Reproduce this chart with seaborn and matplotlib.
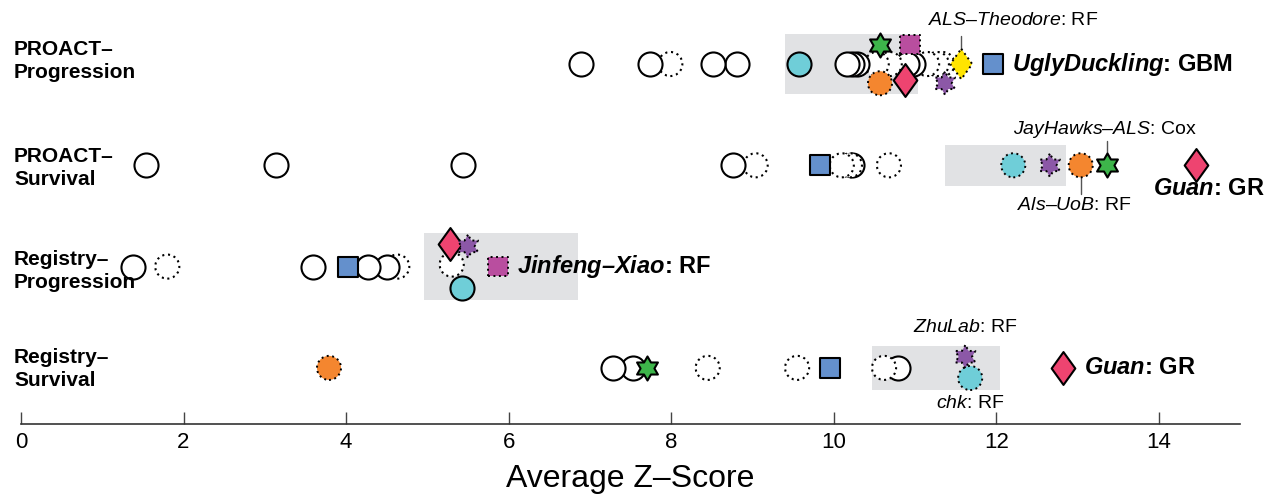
import numpy as np
import pandas as pd
import matplotlib
matplotlib.use("Agg")
import matplotlib.pyplot as plt
import seaborn as sns
from matplotlib.path import Path

# ---------------- data ----------------
row_labels = ["PROACT\u2013\nProgression", "PROACT\u2013\nSurvival",
              "Registry\u2013\nProgression", "Registry\u2013\nSurvival"]

# unlabelled teams (open circles), per row
open_solid = [
    [6.89, 7.74, 8.51, 8.81, 10.16, 10.23, 10.29, 10.90, 10.98],
    [1.54, 3.14, 5.44, 8.76, 10.23],
    [1.38, 3.59, 4.27, 4.50],
    [7.28, 7.53, 10.79],
]
open_dotted = [
    [7.99, 10.53, 10.69, 11.15, 11.27, 11.34],
    [9.04, 10.10, 10.20, 10.68],
    [1.80, 4.63, 5.30],
    [8.45, 9.55, 10.62],
]

# highlighted teams, value per row (nan = absent)
nan = np.nan
team_chk = [9.57, 12.21, 5.43, 11.68]
team_als_uob = [10.57, 13.04, nan, 3.79]
team_jayhawks = [10.57, 13.36, nan, 7.70]
team_jinfeng = [10.94, nan, 5.87, nan]
team_guan = [10.88, 14.46, 5.28, 12.82]
team_zhulab = [11.37, 12.66, 5.50, 11.62]
team_theodore = [11.57, nan, nan, nan]
team_ugly = [11.96, 9.83, 4.02, 9.95]

# shaded ranges per row
band_lo = [9.40, 11.37, 4.96, 10.47]
band_hi = [11.04, 12.86, 6.85, 12.05]

tick_values = [0, 2, 4, 6, 8, 10, 12, 14]
x_label = "Average Z\u2013Score"

# ---------------- style ----------------
sns.set_theme(style="white")
plt.rcParams['font.family'] = ['Liberation Sans', 'DejaVu Sans']
plt.rcParams['text.color'] = 'black'
plt.rcParams['axes.labelcolor'] = 'black'
plt.rcParams['xtick.color'] = 'black'
plt.rcParams['mathtext.fontset'] = 'custom'
plt.rcParams['mathtext.rm'] = 'Liberation Sans'
plt.rcParams['mathtext.it'] = 'Liberation Sans:italic'
plt.rcParams['mathtext.bf'] = 'Liberation Sans:bold'
plt.rcParams['mathtext.bfit'] = 'Liberation Sans:italic:bold'

ang = np.deg2rad(np.arange(12) * 30 + 90)
rad = np.where(np.arange(12) % 2 == 0, 1.0, 0.577)
hv = np.column_stack([rad * np.cos(ang), rad * np.sin(ang)])
HEX = Path(np.vstack([hv, hv[:1]]), closed=True)
DIA = Path([(0, 1), (0.72, 0), (0, -1), (-0.72, 0), (0, 1)], closed=True)

DOT = (0, (1.0, 1.8))
teams = [
    # values, marker, color, size, edge styles per row, y offsets per row
    (team_chk, 'o', '#6FCED8', 300, ['-', DOT, '-', DOT], [0, 0, 0.21, 0.10]),
    (team_als_uob, 'o', '#F4862F', 300, [DOT, DOT, DOT, DOT], [0.19, 0, 0, 0]),
    (team_jayhawks, HEX, '#3DB54A', 300, ['-', '-', '-', '-'], [-0.19, 0, 0, 0]),
    (team_jinfeng, 's', '#B94E9F', 190, [DOT, DOT, DOT, DOT], [-0.19, 0, 0, 0]),
    (team_guan, DIA, '#EE4470', 560, ['-', '-', '-', '-'], [0.16, 0, -0.22, 0]),
    (team_zhulab, HEX, '#8C58A7', 280, [DOT, DOT, DOT, DOT], [0.19, 0, -0.20, -0.11]),
    (team_theodore, DIA, '#FFE400', 480, [DOT, DOT, DOT, DOT], [0, 0, 0, 0]),
    (team_ugly, 's', '#6490CC', 190, ['-', '-', '-', '-'], [0, 0, 0, 0]),
]

W, H = 1266, 497
fig = plt.figure(figsize=(W / 100, H / 100), dpi=100)
ax = fig.add_axes([21 / W, 73 / H, 1219 / W, 424 / H])
ax.set_xlim(0, 15)
ax.set_ylim(3.554, -0.632)

# shaded bands
for r in range(4):
    hh = [0.30, 0.20, 0.33, 0.22][r]
    ax.add_patch(plt.Rectangle((band_lo[r], r - hh), band_hi[r] - band_lo[r], 2 * hh,
                               facecolor='#E1E2E4', edgecolor='none', zorder=0))

# open circles: leftmost drawn on top
z = 1
for r in range(4):
    pts = [(v, '-') for v in open_solid[r]] + [(v, DOT) for v in open_dotted[r]]
    pts.sort(key=lambda p: -p[0])
    for v, ls in pts:
        dy = -0.02 if (r == 2 and abs(v - 5.30) < 1e-6) else 0
        sns.scatterplot(x=[v], y=[r + dy], ax=ax, marker='o', s=300,
                        facecolor='white', edgecolor='black', linewidth=1.5,
                        linestyle=ls, zorder=z, legend=False)
        z += 1

# highlighted teams
for vals, mk, col, size, styles, offs in teams:
    for r in range(4):
        v = vals[r]
        if np.isnan(v):
            continue
        sns.scatterplot(x=[v], y=[r + offs[r]], ax=ax, marker=mk, s=size,
                        facecolor=col, edgecolor='black',
                        linewidth=1.5 if styles[r] == '-' else 1.4,
                        linestyle=styles[r], zorder=100 + z, legend=False)
        z += 1

# annotations
def note(text, x, r, dx, dy, ha='center', size=14, weight='normal'):
    ax.annotate(text, xy=(x, r), xytext=(dx, dy), textcoords='offset pixels',
                ha=ha, va='center', fontsize=size, fontweight=weight, zorder=500)

note("$\\mathit{ALS\u2013Theodore}$: RF", team_theodore[0], 0, 52, 44)
ax.plot([team_theodore[0]] * 2, [0 - 0.12, 0 - 0.28], color='#555555', lw=1, zorder=50)
note("$\\mathbfit{UglyDuckling}$: GBM", team_ugly[0], 0, 19, 0, ha='left', size=17, weight='bold')
note("$\\mathit{JayHawks\u2013ALS}$: Cox", team_jayhawks[1], 1, -2, 36)
ax.plot([team_jayhawks[1]] * 2, [1 - 0.12, 1 - 0.24], color='#555555', lw=1, zorder=50)
note("$\\mathit{Als\u2013UoB}$: RF", team_als_uob[1], 1, -6, -40)
ax.plot([team_als_uob[1]] * 2, [1 + 0.13, 1 + 0.28], color='#555555', lw=1, zorder=50)
note("$\\mathbfit{Guan}$: GR", team_guan[1], 1, 13, -23, size=17, weight='bold')
note("$\\mathbfit{Jinfeng\u2013Xiao}$: RF", team_jinfeng[2], 2, 19, 0, ha='left', size=17, weight='bold')
note("$\\mathit{ZhuLab}$: RF", team_zhulab[3], 3, 0, 40)
note("$\\mathit{chk}$: RF", team_chk[3], 3, 0, -36)
note("$\\mathbfit{Guan}$: GR", team_guan[3], 3, 21, 0, ha='left', size=17, weight='bold')

# row labels
centers_px = [61, 168, 271, 369]
for lab, cy in zip(row_labels, centers_px):
    fig.text(14 / W, 1 - cy / H, lab, ha='left', va='center', fontsize=15,
             fontweight='bold', linespacing=1.3)

# axis styling
sns.despine(ax=ax, left=True, top=True, right=True)
ax.spines['bottom'].set_color('#333333')
ax.spines['bottom'].set_linewidth(1.2)
ax.set_yticks([])
ax.set_xticks(tick_values)
ax.set_xticklabels([str(t) for t in tick_values], fontsize=16)
ax.tick_params(axis='x', direction='in', length=9, width=1, color='#444444', pad=6,
               bottom=True)
ax.set_xlabel(x_label, fontsize=23, labelpad=8)
ax.grid(False)

fig.savefig("out.png", dpi=100)
